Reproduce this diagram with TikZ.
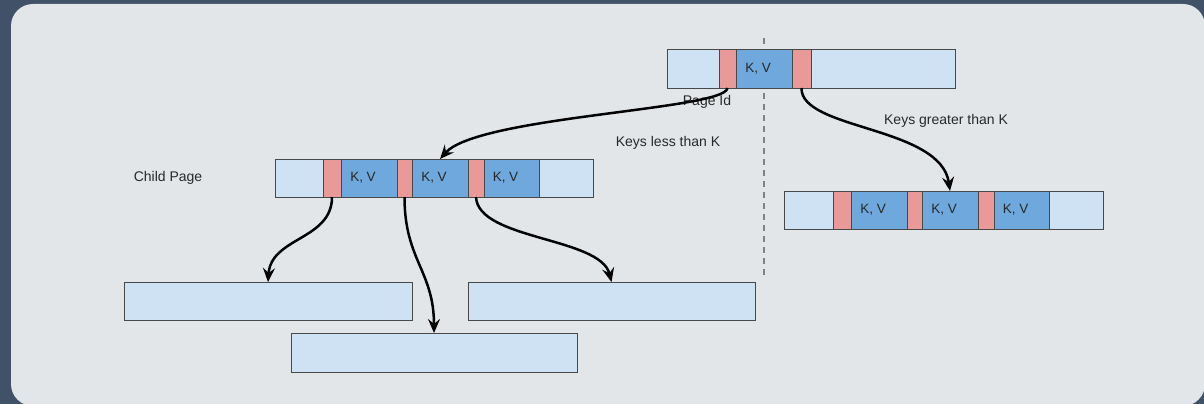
\documentclass[tikz,border=0pt]{standalone}
\usepackage{fontspec}
\setmainfont{Liberation Sans}
\usetikzlibrary{arrows.meta}

\definecolor{frame}{RGB}{64,81,104}
\definecolor{panel}{RGB}{226,230,233}
\definecolor{slot}{RGB}{207,226,243}
\definecolor{kvblue}{RGB}{111,168,220}
\definecolor{ptrpink}{RGB}{234,153,153}
\definecolor{edge}{RGB}{72,72,72}
\definecolor{ink}{RGB}{40,40,40}
\definecolor{divider}{RGB}{130,130,130}

\tikzset{
  cell/.style={draw=edge, line width=1pt, inner sep=0pt, outer sep=0pt,
               minimum height=38pt, anchor=north west},
  pagebox/.style={cell, fill=slot},
  ptr/.style={cell, fill=ptrpink},
  kv/.style={cell, fill=kvblue, text=ink,
             font=\fontsize{13.5}{15}\selectfont},
  lbl/.style={text=ink, font=\fontsize{14}{16}\selectfont, inner sep=0pt},
  link/.style={line width=2.5pt, black,
               -{Stealth[length=14pt, width=12pt, inset=5pt]}},
}
\newcommand{\kvtext}{K, V\kern12pt}

\begin{document}
\begin{tikzpicture}[x=1pt, y=-1pt]
  \useasboundingbox (0,0) rectangle (1204,404);
  \fill[frame] (0,0) rectangle (1204,404);
  \fill[panel, rounded corners=22pt] (11,4) rectangle (1205,406);

  % split line under the key, behind the root page
  \coordinate (dtop) at (764,38);
  \coordinate (dbot) at (764,277);
  \draw[divider, line width=1.5pt, dash pattern=on 6pt off 5pt] (dtop) -- (dbot);

  % root page
  \node[pagebox, minimum width=288pt] (top) at (667,50) {};
  \node[ptr, minimum width=17pt] (topP1) at (719,50) {};
  \node[kv, minimum width=56pt] (topKV) at (736,50) {\kvtext};
  \node[ptr, minimum width=19pt] (topP2) at (792,50) {};

  % child page on the left
  \node[pagebox, minimum width=318pt] (mid) at (275,159) {};
  \node[ptr, minimum width=18pt] (midP1) at (323,159) {};
  \node[kv, minimum width=56pt] (midKV1) at (341,159) {\kvtext};
  \node[ptr, minimum width=15pt] (midP2) at (397,159) {};
  \node[kv, minimum width=56pt] (midKV2) at (412,159) {\kvtext};
  \node[ptr, minimum width=16pt] (midP3) at (468,159) {};
  \node[kv, minimum width=55pt] (midKV3) at (484,159) {\kvtext};

  % child page on the right
  \node[pagebox, minimum width=319pt] (rgt) at (784,191) {};
  \node[ptr, minimum width=18pt] (rgtP1) at (833,191) {};
  \node[kv, minimum width=56pt] (rgtKV1) at (851,191) {\kvtext};
  \node[ptr, minimum width=15pt] (rgtP2) at (907,191) {};
  \node[kv, minimum width=56pt] (rgtKV2) at (922,191) {\kvtext};
  \node[ptr, minimum width=16pt] (rgtP3) at (978,191) {};
  \node[kv, minimum width=55pt] (rgtKV3) at (994,191) {\kvtext};

  % grandchild pages
  \node[pagebox, minimum width=288pt] (boxL) at (124,282) {};
  \node[pagebox, minimum width=287pt] (boxR) at (468,282) {};
  \node[pagebox, minimum width=286pt, minimum height=39pt] (boxB) at (291,333) {};

  % labels
  \node[lbl] (childlbl) at (168,178) {Child Page};
  \node[lbl] (lesslbl) at (668,143) {Keys less than K};
  \node[lbl] (greaterlbl) at (946,121) {Keys greater than K};
  \node[lbl] (pageid) at (707,102) {Page Id};

  % pointers from the root page
  \draw[link] (topP1.south) .. controls +(-2,22) and +(38,-43) .. (midKV2.north);
  \draw[link] (topP2.south) .. controls +(-1,42) and +(-9,-65) .. (rgtKV2.north);

  % pointers from the left child page
  \draw[link] (midP1.south) .. controls +(0,43) and +(3,-45) .. (boxL.north);
  \draw[link] (midP2.south) .. controls +(0,63) and +(0,-62) .. (boxB.north);
  \draw[link] (midP3.south) .. controls +(2,43) and +(-11,-45) .. (boxR.north);
\end{tikzpicture}
\end{document}
